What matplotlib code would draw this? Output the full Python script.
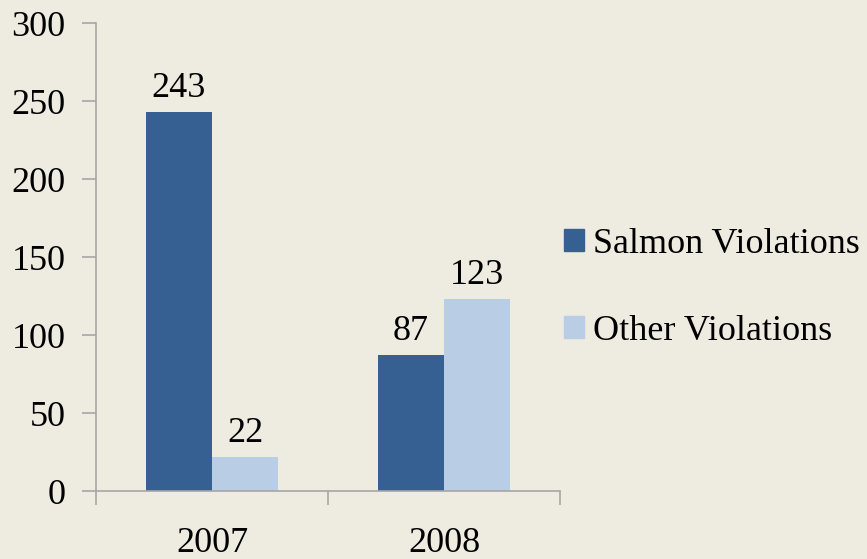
import numpy as np
import matplotlib.pyplot as plt
from matplotlib.patches import Patch

years = ['2007', '2008']
salmon = [243, 87]
other = [22, 123]
series_names = ['Salmon Violations', 'Other Violations']
yticks = [0, 50, 100, 150, 200, 250, 300]

bg = '#EEECE1'
c_salmon = '#376092'
c_other = '#B9CDE5'
axis_col = '#A6A6A6'
fs = 26

plt.rcParams['font.family'] = ['Liberation Serif', 'DejaVu Serif']

fig = plt.figure(figsize=(8.67, 5.59), dpi=100, facecolor=bg)
ax = fig.add_axes([96/867, 1-491/559, (560-96)/867, (491-23)/559], facecolor=bg)

x = np.arange(len(years))
w = 0.285
b1 = ax.bar(x - w/2, salmon, w, color=c_salmon, label=series_names[0])
b2 = ax.bar(x + w/2, other, w, color=c_other, label=series_names[1])
ax.bar_label(b1, padding=5, fontsize=fs)
ax.bar_label(b2, padding=5, fontsize=fs)

ax.set_xlim(-0.5, len(years) - 0.5)
ax.set_ylim(0, 300)
ax.set_yticks(yticks)
ax.tick_params(axis='y', labelsize=fs, length=10, color=axis_col, width=1.2, pad=12)

# category labels below, ticks at the category boundaries
ax.set_xticks(np.arange(len(years) + 1) - 0.5)
ax.set_xticklabels([''] * (len(years) + 1))
ax.tick_params(axis='x', length=10, color=axis_col, width=1.2, direction='out')
for i, yr in enumerate(years):
    ax.text(i, -0.147, yr, transform=ax.get_xaxis_transform(), ha='center', va='bottom', fontsize=fs)

for s in ['top', 'right']:
    ax.spines[s].set_visible(False)
for s in ['left', 'bottom']:
    ax.spines[s].set_color(axis_col)
    ax.spines[s].set_linewidth(1.2)

handles = [Patch(color=c_salmon), Patch(color=c_other)]
fig.legend(handles, series_names, loc='center left', bbox_to_anchor=(0.651, 0.485),
           frameon=False, fontsize=fs, handlelength=0.55, handleheight=0.55,
           handletextpad=0.25, labelspacing=1.5, borderpad=0, borderaxespad=0)

fig.savefig('out.png', dpi=100, facecolor=bg)
